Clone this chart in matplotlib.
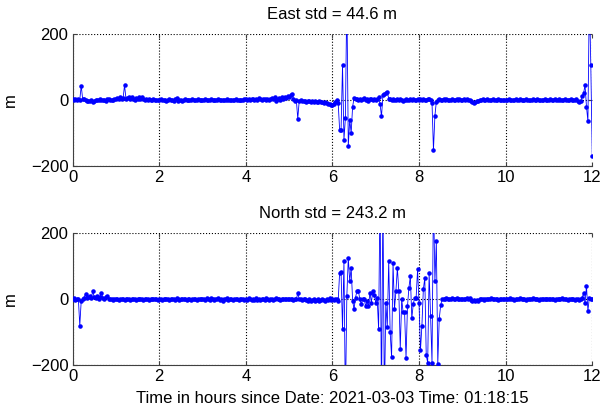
#!/usr/bin/env python3

# East / North position error time series, two stacked panels (MATLAB look).
import numpy as np
import matplotlib
matplotlib.use("Agg")
import matplotlib.pyplot as plt

plt.rcParams['font.family'] = ['Liberation Sans', 'DejaVu Sans']

# Sample spacing is 2 minutes -> 30 samples per hour, 0 .. 12 h
samples_per_hour = 30

# East error (m), one row per hour
east = [
    2, 0, 3, -1, 2, 1, 43, 2, 4, 1, -2, -4, -3, 0, -5, -2, 1, -1, 0, 2, -1, 1, 0, -2, 2, 3, 0, 1, -1, 2,
    4, 7, 3, 9, 2, 5, 45, 3, 6, 8, 2, 10, 4, 1, 7, 3, 8, 2, 9, 4, 1, 3, 0, 2, -1, 1, 2, 0, 1, -1,
    0, 2, -1, 1, 0, -2, 1, 3, -1, 0, -3, 2, 5, -4, 1, 0, -2, 1, 2, 0, -1, 1, 0, 2, -1, 0, 1, 2, 0, 1,
    1, 0, 2, 1, -1, 0, 2, 1, 0, -1, 1, 2, 0, 1, -1, 0, 1, 2, 1, 0, -1, 1, 0, 2, 1, 0, 1, -1, 0, 2,
    2, 1, 3, 0, 2, 4, 1, 3, 0, 5, 2, 1, 4, 3, 0, 2, 1, 3, 6, 2, 8, -2, 4, 6, 1, 9, 3, 10, 5, 12,
    8, 14, 18, 4, -2, 1, -57, -3, -1, -4, -2, -3, -5, -2, -4, -6, -3, -5, -4, -6, -5, -3, -7, -5, -8, -6, -9, -11, -12, -14,
    -15, -12, -5, 0, -10, -90, -90, 105, -120, -55, 320, -140, -60, -100, -20, 5, 2, 4, -1, 3, 0, 2, 5, 1, 3, -2, 4, 2, 0, 3,
    1, 3, 8, -12, -50, 14, 18, 22, 25, 4, 2, 0, 3, 1, -1, 2, 0, 3, 1, -2, 1, 2, 0, 1, 3, -1, 2, 0, 1, 2,
    0, 2, 1, 3, 0, 1, 4, 2, 0, -8, -152, -48, -5, 1, 2, 0, 1, 3, 0, 2, 1, -1, 0, 2, 1, 0, 3, 1, 2, 0,
    1, 2, 0, 3, 1, 0, -3, -6, -8, -5, -4, -2, 1, 0, 2, 1, 0, 2, -1, 1, 0, 2, 1, 0, 1, 2, 0, 1, -1, 0,
    1, 0, 2, 1, -1, 0, 1, 2, 0, 1, 3, 1, -1, 0, 2, 1, 0, 1, -1, 2, 0, 1, 2, 0, -1, 1, 0, 2, 1, 0,
    1, 2, 0, 1, 3, 1, 0, 2, 1, -1, 0, 2, 1, 0, 1, 2, -1, 0, 1, 2, -4, -6, -3, 12, 20, 45, -20, -65, 320, 105,
    -170,
]

# North error (m)
north = [
    0, 3, -2, 1, 2, -80, -4, 2, 5, 16, 3, 8, 10, 4, 25, 6, 3, 9, 2, 7, 20, 4, 1, 6, 10, 2, 0, 1, -1, 0,
    1, 0, -1, 1, 0, 2, -1, 0, 1, 0, -1, 1, 2, 0, -1, 0, 1, 0, 2, -1, 0, 1, 0, -1, 1, 0, 2, 1, 0, -1,
    0, 1, -1, 0, 2, 1, 0, -1, 1, 0, 2, -2, 3, 1, -1, 0, 1, 2, 0, -1, 1, 0, -2, 1, 0, 2, -1, 1, 0, 1,
    0, 2, -1, 3, 0, -2, 4, 1, -3, 2, 0, 3, -2, 1, -4, 2, 0, 3, -1, 1, 0, -2, 2, 1, 0, -1, 2, 0, 1, -1,
    1, -2, 3, 0, -3, 2, -1, 4, -2, 1, -3, 2, 0, -1, 3, 1, -2, 0, 2, -1, 1, 3, 0, 2, -1, 1, 0, 2, 1, 0,
    1, 0, 2, -1, 1, 0, 18, 1, 0, -1, 2, 1, -3, -4, 2, -5, -2, 1, -4, -3, 0, -5, -2, 1, -3, -4, 0, -2, 3, -1,
    0, -3, 2, 0, -5, 80, 82, -90, 115, -320, 10, 125, 55, 95, -5, -30, 5, 25, 25, 0, -15, 0, 2, -22, -5, -22, 20, -10, 25, 12,
    -10, 5, -90, 320, -320, 320, -320, -10, -85, 115, -100, -175, 110, -30, 25, 95, 25, -150, 0, -40, -40, -178, -22, 35, 70, -58, -15, 5, 5, 90,
    -10, -155, -80, 30, 65, -170, -192, 80, -50, -192, 320, 55, 175, -195, -60, -18, 0, 2, 1, 3, 0, 2, 1, 4, 2, 0, 3, 1, 2, 0,
    1, 2, 0, 3, 1, 4, -2, -5, -3, -6, -1, -4, 0, 2, 1, -1, 0, 2, 1, 0, 3, 1, 0, 2, 1, -1, 0, 2, 1, 0,
    2, 0, 1, 3, 0, 1, -1, 2, 0, 1, 3, 0, 2, 1, -1, 0, 2, 1, 0, 3, 1, 0, 2, -1, 1, 0, 2, 1, 0, 1,
    1, 0, 2, 1, -1, 0, 2, 1, 0, 3, 1, 0, 2, -1, 1, 0, 2, 1, -2, 0, 1, -3, 2, 5, 18, -12, 40, -35, 5, 0,
    2,
]

titles = ["East std = 44.6 m", "North std = 243.2 m"]
xlabel = "Time in hours since Date: 2021-03-03 Time: 01:18:15"

assert len(east) == len(north) == 12 * samples_per_hour + 1
t = np.arange(len(east)) / samples_per_hour

fig = plt.figure(figsize=(6.15, 4.13), dpi=100)
ax1 = fig.add_axes([0.118, 0.598, 0.845, 0.320])
ax2 = fig.add_axes([0.118, 0.1155, 0.845, 0.320])

for ax, y, title in zip([ax1, ax2], [east, north], titles):
    ax.plot(t, y, '.-', color=(0, 0, 1), lw=0.6, ms=4.5, zorder=3)
    ax.set_xlim(0, 12)
    ax.set_ylim(-200, 200)
    ax.set_xticks([0, 2, 4, 6, 8, 10, 12])
    ax.set_yticks([-200, 0, 200])
    ax.grid(True, linestyle=':', color='black', lw=0.8)
    ax.spines['top'].set_visible(False)
    ax.spines['right'].set_visible(False)
    for s in ['left', 'bottom']:
        ax.spines[s].set_color('#404040')
        ax.spines[s].set_linewidth(0.8)
    ax.tick_params(direction='in', length=3, width=0.8, color='#404040',
                   labelsize=12, pad=3, top=True, right=True)
    ax.set_title(title, fontsize=12, pad=11)
    ax.set_ylabel("m", fontsize=12)
    ax.yaxis.set_label_coords(-0.105, 0.5)

ax2.set_xlabel(xlabel, fontsize=12, labelpad=5)

fig.savefig("out.png", dpi=100)
